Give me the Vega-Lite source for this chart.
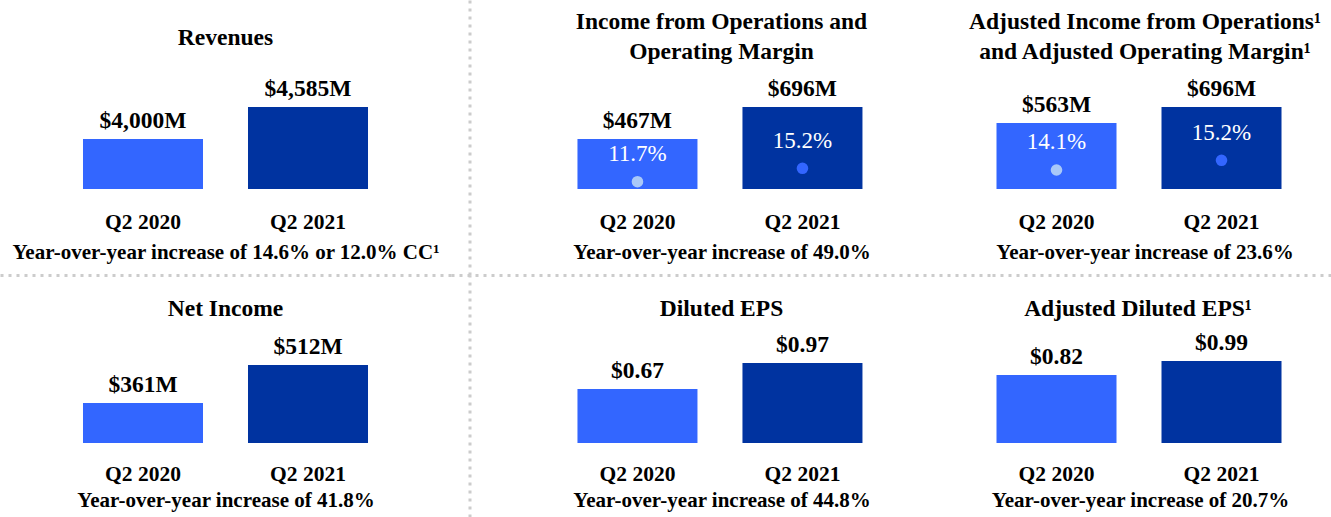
{
  "$schema": "https://vega.github.io/schema/vega-lite/v6.json",
  "padding": 0,
  "background": "white",
  "data": {
    "values": [
      {"panel": "Revenues", "period": "Q2 2020", "value": 4000, "label": "$4,000M"},
      {"panel": "Revenues", "period": "Q2 2021", "value": 4585, "label": "$4,585M"},
      {"panel": "Income from Operations", "period": "Q2 2020", "value": 467, "label": "$467M", "margin": 11.7, "marginLabel": "11.7%"},
      {"panel": "Income from Operations", "period": "Q2 2021", "value": 696, "label": "$696M", "margin": 15.2, "marginLabel": "15.2%"},
      {"panel": "Adjusted Income from Operations", "period": "Q2 2020", "value": 563, "label": "$563M", "margin": 14.1, "marginLabel": "14.1%"},
      {"panel": "Adjusted Income from Operations", "period": "Q2 2021", "value": 696, "label": "$696M", "margin": 15.2, "marginLabel": "15.2%"},
      {"panel": "Net Income", "period": "Q2 2020", "value": 361, "label": "$361M"},
      {"panel": "Net Income", "period": "Q2 2021", "value": 512, "label": "$512M"},
      {"panel": "Diluted EPS", "period": "Q2 2020", "value": 0.67, "label": "$0.67"},
      {"panel": "Diluted EPS", "period": "Q2 2021", "value": 0.97, "label": "$0.97"},
      {"panel": "Adjusted Diluted EPS", "period": "Q2 2020", "value": 0.82, "label": "$0.82"},
      {"panel": "Adjusted Diluted EPS", "period": "Q2 2021", "value": 0.99, "label": "$0.99"}
    ]
  },
  "config": {
    "view": {"stroke": null},
    "font": "Liberation Serif",
    "concat": {"spacing": 0},
    "title": {"font": "Liberation Serif", "fontSize": 23.5, "fontWeight": "bold", "color": "#000000", "lineHeight": 30, "anchor": "middle", "frame": "group", "baseline": "alphabetic"},
    "axisX": {"domain": false, "ticks": false, "tickSize": 0, "grid": false, "labelAngle": 0, "labelFont": "Liberation Serif", "labelFontSize": 21.5, "labelFontWeight": "bold", "labelColor": "#000000", "labelPadding": 22, "titleFont": "Liberation Serif", "titleFontSize": 21, "titleFontWeight": "bold", "titleColor": "#000000", "titlePadding": 9},
    "axisY": {"labels": false, "ticks": false, "tickSize": 0, "domain": false, "title": null, "grid": false, "gridColor": "#CCCCCC", "gridDash": [3, 5], "gridWidth": 3, "gridOpacity": 1, "domainColor": "#CCCCCC", "domainDash": [3, 5], "domainWidth": 3}
  },
  "spacing": 0,
  "vconcat": [
    {
      "bounds": "flush",
      "spacing": 0,
      "resolve": {"scale": {"x": "independent", "y": "independent"}},
      "hconcat": [
        {
          "width": 451, "height": 275,
          "title": {"text": "Revenues", "offset": -49},
          "transform": [{"filter": "datum.panel === 'Revenues'"}],
          "encoding": {
            "x": {"field": "period", "type": "nominal", "scale": {"type": "band", "paddingInner": 0.2727, "paddingOuter": 0.503, "align": 0.5}, "axis": {"title": "Year-over-year increase of 14.6% or 12.0% CC¹", "offset": -86}}
          },
          "layer": [
            {"mark": {"type": "bar"}, "encoding": {
              "y": {"field": "value", "type": "quantitative", "scale": {"domain": [1513.7, 6541.1], "nice": false, "zero": false}, "axis": {"values": [1513.7], "grid": true, "orient": "right", "offset": 18.5, "domain": true}},
              "y2": {"datum": 3085.9},
              "color": {"field": "period", "type": "nominal", "scale": {"domain": ["Q2 2020", "Q2 2021"], "range": ["#3366FF", "#0033A0"]}, "legend": null}}},
            {"mark": {"type": "text", "fontSize": 23.5, "fontWeight": "bold", "color": "#000000", "baseline": "alphabetic", "dy": -11}, "encoding": {
              "y": {"field": "value", "type": "quantitative"},
              "text": {"field": "label"}}}
          ]
        },
        {
          "width": 541, "height": 275,
          "title": {"text": ["Income from Operations and", "Operating Margin"], "offset": -63},
          "transform": [{"filter": "datum.panel === 'Income from Operations'"}],
          "encoding": {
            "x": {"field": "period", "type": "nominal", "scale": {"type": "band", "paddingInner": 0.2727, "paddingOuter": 0.7758, "align": 0.494}, "axis": {"title": "Year-over-year increase of 49.0%", "offset": -86}}
          },
          "resolve": {"scale": {"y": "independent"}},
          "layer": [
            {"mark": {"type": "bar"}, "encoding": {
              "y": {"field": "value", "type": "quantitative", "scale": {"domain": [-506.25, 1461.72], "nice": false, "zero": false}, "axis": {"values": [-506.25], "grid": true}},
              "y2": {"datum": 109.19},
              "color": {"field": "period", "type": "nominal", "scale": {"domain": ["Q2 2020", "Q2 2021"], "range": ["#3366FF", "#0033A0"]}, "legend": null}}},
            {"mark": {"type": "text", "fontSize": 23.5, "fontWeight": "bold", "color": "#000000", "baseline": "alphabetic", "dy": -11}, "encoding": {
              "y": {"field": "value", "type": "quantitative", "scale": {"domain": [-506.25, 1461.72], "nice": false, "zero": false}, "axis": null},
              "text": {"field": "label"}}},
            {"mark": {"type": "point", "filled": true, "size": 135, "opacity": 1, "strokeWidth": 0}, "encoding": {
              "y": {"field": "margin", "type": "quantitative", "scale": {"domain": [-12.67, 59.15], "nice": false, "zero": false}, "axis": null},
              "fill": {"field": "period", "type": "nominal", "scale": {"domain": ["Q2 2020", "Q2 2021"], "range": ["#A9C8F8", "#3366FF"]}, "legend": null}}},
            {"mark": {"type": "text", "fontSize": 23, "fontWeight": "normal", "color": "#FFFFFF", "baseline": "alphabetic", "dy": -20.5}, "encoding": {
              "y": {"field": "margin", "type": "quantitative", "scale": {"domain": [-12.67, 59.15], "nice": false, "zero": false}, "axis": null},
              "text": {"field": "marginLabel"}}}
          ]
        },
        {
          "width": 339, "height": 275,
          "title": {"text": ["Adjusted Income from Operations¹", "and Adjusted Operating Margin¹"], "offset": -63, "dx": -16.5},
          "transform": [{"filter": "datum.panel === 'Adjusted Income from Operations'"}],
          "encoding": {
            "x": {"field": "period", "type": "nominal", "scale": {"type": "band", "paddingInner": 0.2727, "paddingOuter": 0.1636, "align": 0.0833}, "axis": {"title": "Year-over-year increase of 23.6%", "offset": -86, "titleX": 152.5}}
          },
          "resolve": {"scale": {"y": "independent"}},
          "layer": [
            {"mark": {"type": "bar"}, "encoding": {
              "y": {"field": "value", "type": "quantitative", "scale": {"domain": [-700.5, 1585.43], "nice": false, "zero": false}, "axis": {"values": [-700.5], "grid": true}},
              "y2": {"datum": 14.37},
              "color": {"field": "period", "type": "nominal", "scale": {"domain": ["Q2 2020", "Q2 2021"], "range": ["#3366FF", "#0033A0"]}, "legend": null}}},
            {"mark": {"type": "text", "fontSize": 23.5, "fontWeight": "bold", "color": "#000000", "baseline": "alphabetic", "dy": -11}, "encoding": {
              "y": {"field": "value", "type": "quantitative", "scale": {"domain": [-700.5, 1585.43], "nice": false, "zero": false}, "axis": null},
              "text": {"field": "label"}}},
            {"mark": {"type": "point", "filled": true, "size": 135, "opacity": 1, "strokeWidth": 0}, "encoding": {
              "y": {"field": "margin", "type": "quantitative", "scale": {"domain": [2.19, 33.38], "nice": false, "zero": false}, "axis": null},
              "fill": {"field": "period", "type": "nominal", "scale": {"domain": ["Q2 2020", "Q2 2021"], "range": ["#A9C8F8", "#3366FF"]}, "legend": null}}},
            {"mark": {"type": "text", "fontSize": 23, "fontWeight": "normal", "color": "#FFFFFF", "baseline": "alphabetic", "dy": -20.5}, "encoding": {
              "y": {"field": "margin", "type": "quantitative", "scale": {"domain": [2.19, 33.38], "nice": false, "zero": false}, "axis": null},
              "text": {"field": "marginLabel"}}}
          ]
        }
      ]
    },
    {
      "bounds": "flush",
      "spacing": 0,
      "resolve": {"scale": {"x": "independent", "y": "independent"}},
      "hconcat": [
        {
          "width": 451, "height": 242,
          "title": {"text": "Net Income", "offset": -45},
          "transform": [{"filter": "datum.panel === 'Net Income'"}],
          "encoding": {
            "x": {"field": "period", "type": "nominal", "scale": {"type": "band", "paddingInner": 0.2727, "paddingOuter": 0.503, "align": 0.5}, "axis": {"title": "Year-over-year increase of 41.8%", "offset": -74, "labelPadding": 20.5, "titlePadding": 4}}
          },
          "layer": [
            {"mark": {"type": "bar"}, "encoding": {
              "y": {"field": "value", "type": "quantitative", "scale": {"domain": [-92.0, 869.63], "nice": false, "zero": false}, "axis": {"orient": "right", "offset": 18.5, "domain": true, "grid": false, "values": [-92.0]}},
              "y2": {"datum": 202.05},
              "color": {"field": "period", "type": "nominal", "scale": {"domain": ["Q2 2020", "Q2 2021"], "range": ["#3366FF", "#0033A0"]}, "legend": null}}},
            {"mark": {"type": "text", "fontSize": 23.5, "fontWeight": "bold", "color": "#000000", "baseline": "alphabetic", "dy": -11}, "encoding": {
              "y": {"field": "value", "type": "quantitative"},
              "text": {"field": "label"}}}
          ]
        },
        {
          "width": 541, "height": 242,
          "title": {"text": "Diluted EPS", "offset": -45},
          "transform": [{"filter": "datum.panel === 'Diluted EPS'"}],
          "encoding": {
            "x": {"field": "period", "type": "nominal", "scale": {"type": "band", "paddingInner": 0.2727, "paddingOuter": 0.7758, "align": 0.494}, "axis": {"title": "Year-over-year increase of 44.8%", "offset": -74, "labelPadding": 20.5, "titlePadding": 4}}
          },
          "layer": [
            {"mark": {"type": "bar"}, "encoding": {
              "y": {"field": "value", "type": "quantitative", "scale": {"domain": [-0.80693, 1.98538], "nice": false, "zero": false}, "axis": null},
              "y2": {"datum": 0.04692},
              "color": {"field": "period", "type": "nominal", "scale": {"domain": ["Q2 2020", "Q2 2021"], "range": ["#3366FF", "#0033A0"]}, "legend": null}}},
            {"mark": {"type": "text", "fontSize": 23.5, "fontWeight": "bold", "color": "#000000", "baseline": "alphabetic", "dy": -11}, "encoding": {
              "y": {"field": "value", "type": "quantitative"},
              "text": {"field": "label"}}}
          ]
        },
        {
          "width": 339, "height": 242,
          "title": {"text": "Adjusted Diluted EPS¹", "offset": -45, "dx": -23.5},
          "transform": [{"filter": "datum.panel === 'Adjusted Diluted EPS'"}],
          "encoding": {
            "x": {"field": "period", "type": "nominal", "scale": {"type": "band", "paddingInner": 0.2727, "paddingOuter": 0.1636, "align": 0.0833}, "axis": {"title": "Year-over-year increase of 20.7%", "offset": -74, "labelPadding": 20.5, "titlePadding": 4, "titleX": 148}}
          },
          "layer": [
            {"mark": {"type": "bar"}, "encoding": {
              "y": {"field": "value", "type": "quantitative", "scale": {"domain": [-0.90428, 2.03429], "nice": false, "zero": false}, "axis": null},
              "y2": {"datum": -0.00571},
              "color": {"field": "period", "type": "nominal", "scale": {"domain": ["Q2 2020", "Q2 2021"], "range": ["#3366FF", "#0033A0"]}, "legend": null}}},
            {"mark": {"type": "text", "fontSize": 23.5, "fontWeight": "bold", "color": "#000000", "baseline": "alphabetic", "dy": -11}, "encoding": {
              "y": {"field": "value", "type": "quantitative"},
              "text": {"field": "label"}}}
          ]
        }
      ]
    }
  ]
}
